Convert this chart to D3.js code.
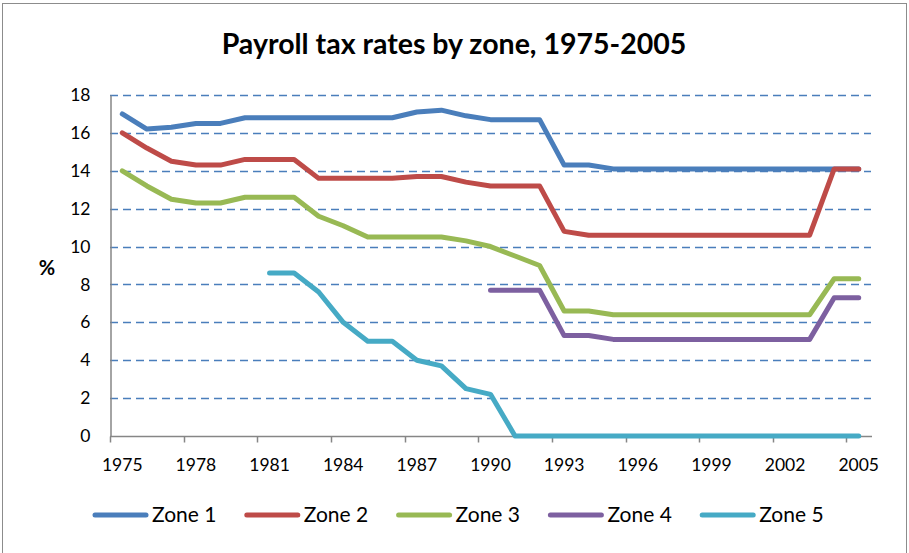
<!DOCTYPE html>
<html>
<head>
<meta charset="utf-8">
<script src="https://cdn.jsdelivr.net/npm/d3@7"></script>
<style>
    body { margin: 0; background: #fff; }
    svg text { font-family: Lato, 'Liberation Sans', sans-serif; fill: #000; }
</style>
</head>
<body>
<div id="chart"></div>
<script>
// payroll tax rates (%) per year, null where the zone did not exist
const years = d3.range(1975, 2006);
const zone1 = [17, 16.2, 16.3, 16.5, 16.5, 16.8, 16.8, 16.8, 16.8, 16.8, 16.8, 16.8, 17.1, 17.2, 16.9, 16.7,
    16.7, 16.7, 14.3, 14.3, 14.1, 14.1, 14.1, 14.1, 14.1, 14.1, 14.1, 14.1, 14.1, 14.1, 14.1];
const zone2 = [16, 15.2, 14.5, 14.3, 14.3, 14.6, 14.6, 14.6, 13.6, 13.6, 13.6, 13.6, 13.7, 13.7, 13.4, 13.2,
    13.2, 13.2, 10.8, 10.6, 10.6, 10.6, 10.6, 10.6, 10.6, 10.6, 10.6, 10.6, 10.6, 14.1, 14.1];
const zone3 = [14, 13.2, 12.5, 12.3, 12.3, 12.6, 12.6, 12.6, 11.6, 11.1, 10.5, 10.5, 10.5, 10.5, 10.3, 10,
    9.5, 9, 6.6, 6.6, 6.4, 6.4, 6.4, 6.4, 6.4, 6.4, 6.4, 6.4, 6.4, 8.3, 8.3];
const zone4 = [null, null, null, null, null, null, null, null, null, null, null, null, null, null, null, 7.7,
    7.7, 7.7, 5.3, 5.3, 5.1, 5.1, 5.1, 5.1, 5.1, 5.1, 5.1, 5.1, 5.1, 7.3, 7.3];
const zone5 = [null, null, null, null, null, null, 8.6, 8.6, 7.6, 6, 5, 5, 4, 3.7, 2.5, 2.2,
    0, 0, 0, 0, 0, 0, 0, 0, 0, 0, 0, 0, 0, 0, 0];
const zoneNames = ['Zone 1', 'Zone 2', 'Zone 3', 'Zone 4', 'Zone 5'];
const zoneColors = ['#4a7ebb', '#be4b48', '#98b954', '#7d60a0', '#46aac5'];
const yTicks = d3.range(0, 20, 2);
const xTickYears = d3.range(1975, 2006, 3);

const series = [zone1, zone2, zone3, zone4, zone5].map((values, i) => ({
    name: zoneNames[i],
    color: zoneColors[i],
    values: values.map((v, j) => ({ year: years[j], value: v }))
}));

const w = 909, h = 553;
const svg = d3.select('#chart').append('svg')
    .attr('width', w)
    .attr('height', h);

// outer chart frame
svg.append('rect')
    .attr('x', 2.5).attr('y', 3.5)
    .attr('width', 904).attr('height', 570)
    .attr('fill', 'none')
    .attr('stroke', '#8c8c8c');

svg.append('text')
    .attr('x', 454).attr('y', 54)
    .attr('text-anchor', 'middle')
    .style('font-size', '28.5px')
    .style('font-weight', 'bold')
    .text('Payroll tax rates by zone, 1975-2005');

const x = d3.scaleBand().domain(years).range([110, 871]);
const y = d3.scaleLinear().domain([0, 18]).range([436, 95]);

// dashed gridlines
svg.append('g').selectAll('line')
    .data(yTicks.filter((d) => d > 0))
    .enter().append('line')
    .attr('x1', 110).attr('x2', 871)
    .attr('y1', (d) => Math.round(y(d)) + 0.5)
    .attr('y2', (d) => Math.round(y(d)) + 0.5)
    .attr('stroke', '#4a7ebb')
    .attr('stroke-width', 1.3)
    .attr('stroke-dasharray', '8,5');

// y axis
const yAxis = svg.append('g')
    .attr('transform', 'translate(110.5,0)')
    .call(d3.axisLeft(y).tickValues(yTicks).tickSize(0).tickPadding(20));
yAxis.select('.domain').attr('stroke', '#868686').attr('stroke-width', 1.5);
yAxis.selectAll('text').style('font-size', '17.5px').attr('font-family', null);

svg.append('text')
    .attr('x', 47).attr('y', 275)
    .attr('text-anchor', 'middle')
    .style('font-size', '20px')
    .style('font-weight', 'bold')
    .text('%');

// x axis: ticks between categories, every third year
const xAxis = svg.append('g')
    .attr('transform', `translate(0,${y(0) + 0.5})`);
xAxis.append('line')
    .attr('x1', 110).attr('x2', 872)
    .attr('stroke', '#868686').attr('stroke-width', 1.5);
xAxis.selectAll('.tick-mark')
    .data(xTickYears)
    .enter().append('line')
    .attr('class', 'tick-mark')
    .attr('x1', (d) => Math.round(x(d)) + 0.5)
    .attr('x2', (d) => Math.round(x(d)) + 0.5)
    .attr('y1', 0).attr('y2', 6)
    .attr('stroke', '#868686').attr('stroke-width', 1.5);
xAxis.selectAll('.tick-label')
    .data(xTickYears)
    .enter().append('text')
    .attr('class', 'tick-label')
    .attr('x', (d) => x(d) + x.bandwidth() / 2)
    .attr('y', 34)
    .attr('text-anchor', 'middle')
    .style('font-size', '17.5px')
    .text((d) => d);

const line = d3.line()
    .defined((d) => d.value !== null)
    .x((d) => x(d.year) + x.bandwidth() / 2)
    .y((d) => y(d.value));

svg.append('g').selectAll('path')
    .data(series)
    .enter().append('path')
    .attr('d', (d) => line(d.values))
    .attr('fill', 'none')
    .attr('stroke', (d) => d.color)
    .attr('stroke-width', 5)
    .attr('stroke-linecap', 'round')
    .attr('stroke-linejoin', 'round');

// legend
const legend = svg.append('g').selectAll('g')
    .data(series)
    .enter().append('g')
    .attr('transform', (d, i) => `translate(${93 + i * 151.8},515)`);
legend.append('line')
    .attr('x1', 2).attr('x2', 53)
    .attr('stroke', (d) => d.color)
    .attr('stroke-width', 5)
    .attr('stroke-linecap', 'round');
legend.append('text')
    .attr('x', 59).attr('y', 7)
    .style('font-size', '21px')
    .text((d) => d.name);
</script>
</body>
</html>
